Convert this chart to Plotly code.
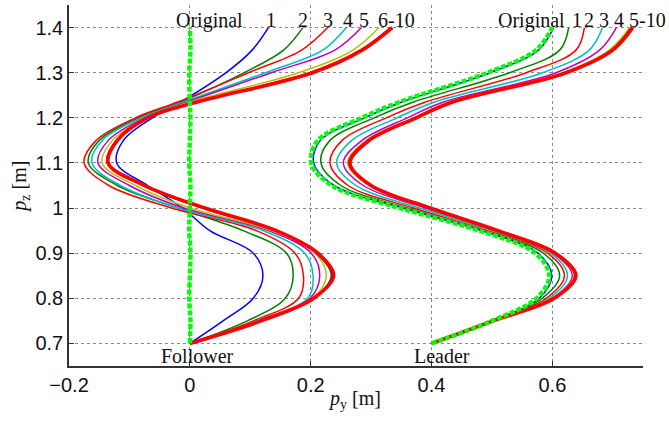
import plotly.graph_objects as go

Y_PTS = [0.70, 0.75, 0.80, 0.85, 0.90, 0.95, 1.00, 1.05, 1.10, 1.15, 1.20, 1.235, 1.30, 1.35, 1.40]

# ---- Follower ----
F_ORIG = [0.000, 0.001, -0.001, 0.000, 0.001, -0.001, 0.000, 0.001, -0.001, 0.000, 0.001, 0.000, -0.001, 0.001, 0.000]
F1 = [0.000, 0.055, 0.105, 0.121, 0.105, 0.033, -0.012, -0.070, -0.121, -0.110, -0.062, -0.015, 0.060, 0.103, 0.130]
F2 = [0.000, 0.095, 0.158, 0.171, 0.160, 0.088, -0.020, -0.120, -0.168, -0.150, -0.085, -0.015, 0.090, 0.155, 0.187]
F3 = [0.000, 0.105, 0.180, 0.188, 0.174, 0.110, -0.030, -0.134, -0.175, -0.155, -0.090, -0.020, 0.097, 0.185, 0.228]
F4 = [0.000, 0.110, 0.195, 0.204, 0.190, 0.121, -0.020, -0.115, -0.162, -0.145, -0.080, -0.010, 0.125, 0.220, 0.259]
F5 = [0.000, 0.113, 0.199, 0.215, 0.201, 0.130, -0.010, -0.100, -0.152, -0.135, -0.075, -0.005, 0.135, 0.240, 0.284]
F6 = [0.000, 0.115, 0.203, 0.226, 0.207, 0.136, 0.000, -0.090, -0.145, -0.128, -0.072, 0.000, 0.180, 0.270, 0.313]
F7 = [0.000, 0.117, 0.204, 0.234, 0.209, 0.141, 0.020, -0.078, -0.137, -0.122, -0.070, 0.010, 0.198, 0.282, 0.332]
F8 = [0.000, 0.118, 0.205, 0.236, 0.210, 0.142, 0.022, -0.077, -0.136, -0.121, -0.070, 0.011, 0.200, 0.284, 0.333]
F9 = [0.000, 0.118, 0.205, 0.237, 0.211, 0.142, 0.023, -0.076, -0.136, -0.120, -0.070, 0.012, 0.201, 0.284, 0.334]
F10 = [0.000, 0.118, 0.205, 0.238, 0.212, 0.143, 0.025, -0.075, -0.135, -0.120, -0.070, 0.012, 0.203, 0.285, 0.335]

# ---- Leader ----
L_ORIG = [0.400, 0.500, 0.574, 0.595, 0.572, 0.479, 0.348, 0.235, 0.201, 0.212, 0.285, 0.347, 0.493, 0.573, 0.600]
L1 = [0.400, 0.503, 0.578, 0.599, 0.576, 0.483, 0.352, 0.239, 0.205, 0.216, 0.289, 0.351, 0.497, 0.577, 0.602]
L2 = [0.400, 0.500, 0.583, 0.612, 0.585, 0.486, 0.360, 0.250, 0.217, 0.232, 0.305, 0.370, 0.529, 0.612, 0.627]
L3 = [0.400, 0.501, 0.590, 0.620, 0.592, 0.493, 0.370, 0.262, 0.232, 0.252, 0.325, 0.390, 0.557, 0.639, 0.653]
L4 = [0.400, 0.501, 0.595, 0.625, 0.597, 0.500, 0.380, 0.275, 0.243, 0.268, 0.343, 0.405, 0.584, 0.661, 0.683]
L5 = [0.400, 0.502, 0.600, 0.633, 0.601, 0.505, 0.390, 0.287, 0.254, 0.285, 0.360, 0.420, 0.606, 0.678, 0.706]
L6 = [0.400, 0.502, 0.601, 0.636, 0.603, 0.508, 0.394, 0.296, 0.261, 0.292, 0.370, 0.430, 0.617, 0.694, 0.728]
L7 = [0.400, 0.502, 0.602, 0.637, 0.604, 0.509, 0.396, 0.298, 0.263, 0.294, 0.372, 0.432, 0.620, 0.697, 0.730]
L8 = [0.400, 0.502, 0.602, 0.638, 0.604, 0.509, 0.397, 0.299, 0.264, 0.296, 0.373, 0.433, 0.621, 0.699, 0.731]
L9 = [0.400, 0.502, 0.603, 0.638, 0.605, 0.510, 0.397, 0.299, 0.264, 0.296, 0.374, 0.434, 0.622, 0.699, 0.732]
L10 = [0.400, 0.502, 0.603, 0.639, 0.605, 0.510, 0.398, 0.300, 0.265, 0.297, 0.375, 0.435, 0.623, 0.700, 0.733]

# labels
F_LABELS = ["Original", "1", "2", "3", "4", "5", "6-10"]
F_LABEL_X = [0.033, 0.134, 0.187, 0.228, 0.261, 0.289, 0.342]
L_LABELS = ["Original", "1", "2", "3", "4", "5-10"]
L_LABEL_X = [0.565, 0.640, 0.661, 0.686, 0.711, 0.757]
LABEL_Y = 1.416
GROUP_NAMES = ["Follower", "Leader"]
GROUP_X = [0.012, 0.417]
GROUP_Y = 0.673

X_RANGE = [-0.2, 0.75]
Y_RANGE = [0.65, 1.45]
X_TICKS = [-0.2, 0, 0.2, 0.4, 0.6]
X_TICKTEXT = ["\u22120.2", "0", "0.2", "0.4", "0.6"]
Y_TICKS = [0.7, 0.8, 0.9, 1.0, 1.1, 1.2, 1.3, 1.4]
Y_TICKTEXT = ["0.7", "0.8", "0.9", "1", "1.1", "1.2", "1.3", "1.4"]

BLUE = "#0000ff"
DGREEN = "#008000"
RED = "#ff0000"
CYAN = "#00bfbf"
MAG = "#bf00bf"
YEL = "#bfbf00"
BLK = "#404040"
LIME = "#00ff00"

cycle = [BLUE, DGREEN, RED, CYAN, MAG, YEL, BLK, BLUE, DGREEN, RED]

fig = go.Figure()

def add(xs, color, width, dash=None):
    fig.add_trace(go.Scatter(
        x=xs, y=Y_PTS, mode="lines",
        line=dict(color=color, width=width, shape="spline", smoothing=1.0, dash=dash),
        showlegend=False, hoverinfo="skip"))

for group in ([F1, F2, F3, F4, F5, F6, F7, F8, F9, F10], [L1, L2, L3, L4, L5, L6, L7, L8, L9, L10]):
    for i, xs in enumerate(group):
        w = 3.6 if i == 9 else 1.5
        add(xs, cycle[i], w)

add(F_ORIG, LIME, 4.5, dash="5px,2px")
add(L_ORIG, LIME, 4.5, dash="5px,2px")

serif = "Liberation Serif"
tfont = dict(family=serif, size=20, color="#111")

for txt, x in zip(F_LABELS, F_LABEL_X):
    fig.add_annotation(x=x, y=LABEL_Y, text=txt, showarrow=False, font=tfont,
                       xref="x", yref="y", xanchor="center", yanchor="middle")
for txt, x in zip(L_LABELS, L_LABEL_X):
    # paper coords so labels beyond the axis end stay visible
    xp = (x - X_RANGE[0]) / (X_RANGE[1] - X_RANGE[0])
    fig.add_annotation(x=xp, y=LABEL_Y, text=txt, showarrow=False, font=tfont,
                       xref="paper", yref="y", xanchor="center", yanchor="middle")
for txt, x in zip(GROUP_NAMES, GROUP_X):
    fig.add_annotation(x=x, y=GROUP_Y, text=txt, showarrow=False, font=tfont,
                       xref="x", yref="y", xanchor="center", yanchor="middle")

# axis titles
fig.add_annotation(x=0.498, y=-0.094, xref="paper", yref="paper", showarrow=False,
                   text="<i>p</i><sub>y</sub> [m]", font=tfont, xanchor="center", yanchor="middle")
fig.add_annotation(x=-0.084, y=0.496, xref="paper", yref="paper", showarrow=False,
                   text="<i>p</i><sub>z</sub> [m]", font=tfont, textangle=-90,
                   xanchor="center", yanchor="middle")

axis_common = dict(
    showgrid=True, gridcolor="#8a8a8a", griddash="dot", gridwidth=1,
    zeroline=False, showline=True, linecolor="#333", linewidth=1.5,
    ticks="inside", ticklen=5, tickcolor="#333", mirror=False, automargin=False,
    tickfont=dict(family="Liberation Sans", size=20, color="#111"),
)

fig.update_layout(
    width=669, height=422,
    margin=dict(l=69, r=26, t=5, b=56),
    paper_bgcolor="white", plot_bgcolor="white",
    xaxis=dict(range=X_RANGE, tickvals=X_TICKS, ticktext=X_TICKTEXT, **axis_common),
    yaxis=dict(range=Y_RANGE, tickvals=Y_TICKS, ticktext=Y_TICKTEXT, **axis_common),
)

fig.write_html("out.html", config={"displayModeBar": False},
               post_script="document.body.style.margin='0';")
